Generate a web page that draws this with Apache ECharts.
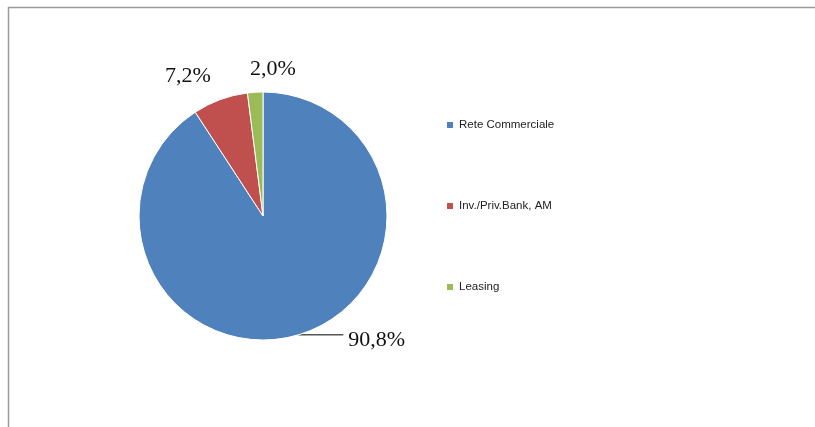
<!DOCTYPE html>
<html>
<head>
<meta charset="utf-8">
<script src="https://cdn.jsdelivr.net/npm/echarts@6/dist/echarts.min.js"></script>
<style>
  html, body { margin: 0; padding: 0; background: #fff; }
  #chart { width: 815px; height: 427px; }
</style>
</head>
<body>
<div id="chart"></div>
<script>
// Business segments and their share of the total (%)
const categories = ['Rete Commerciale', 'Inv./Priv.Bank, AM', 'Leasing'];
const values = [90.8, 7.2, 2.0];
const colors = ['#4F81BD', '#C0504D', '#9BBB59'];
// Per-slice nudges for the percentage labels
const labelShift = [[0, 5], [24, -34], [46, -17]];

const chart = echarts.init(document.getElementById('chart'));

const fmt = v => v.toFixed(1).replace('.', ',') + '%';

chart.setOption({
  animation: false,
  graphic: [{
    type: 'rect',
    shape: { x: 8.5, y: 7.5, width: 1000, height: 600 },
    style: { fill: 'none', stroke: '#9a9a9a', lineWidth: 1.5 },
    silent: true
  }],
  legend: {
    orient: 'vertical',
    left: 440,
    top: 114,
    itemGap: 69,
    itemWidth: 8,
    itemHeight: 8,
    icon: 'rect',
    textStyle: { fontFamily: 'Liberation Sans', fontSize: 11.5, color: '#222' },
    data: categories
  },
  series: [{
    type: 'pie',
    center: [263, 216],
    radius: 124,
    startAngle: 90,
    clockwise: true,
    color: colors,
    itemStyle: { borderColor: '#fff', borderWidth: 1 },
    label: {
      show: true,
      position: 'outside',
      fontFamily: 'Liberation Serif',
      fontSize: 22,
      color: '#111',
      formatter: p => fmt(p.value)
    },
    labelLine: {
      show: true,
      length: 0,
      length2: 45,
      smooth: false,
      lineStyle: { color: '#000', width: 1 }
    },
    labelLayout: p => ({ dx: labelShift[p.dataIndex][0], dy: labelShift[p.dataIndex][1] }),
    data: categories.map((name, i) => ({
      name,
      value: values[i],
      labelLine: i === 0 ? {} : { show: false, length: 6, length2: 0 }
    }))
  }]
});
</script>
</body>
</html>
